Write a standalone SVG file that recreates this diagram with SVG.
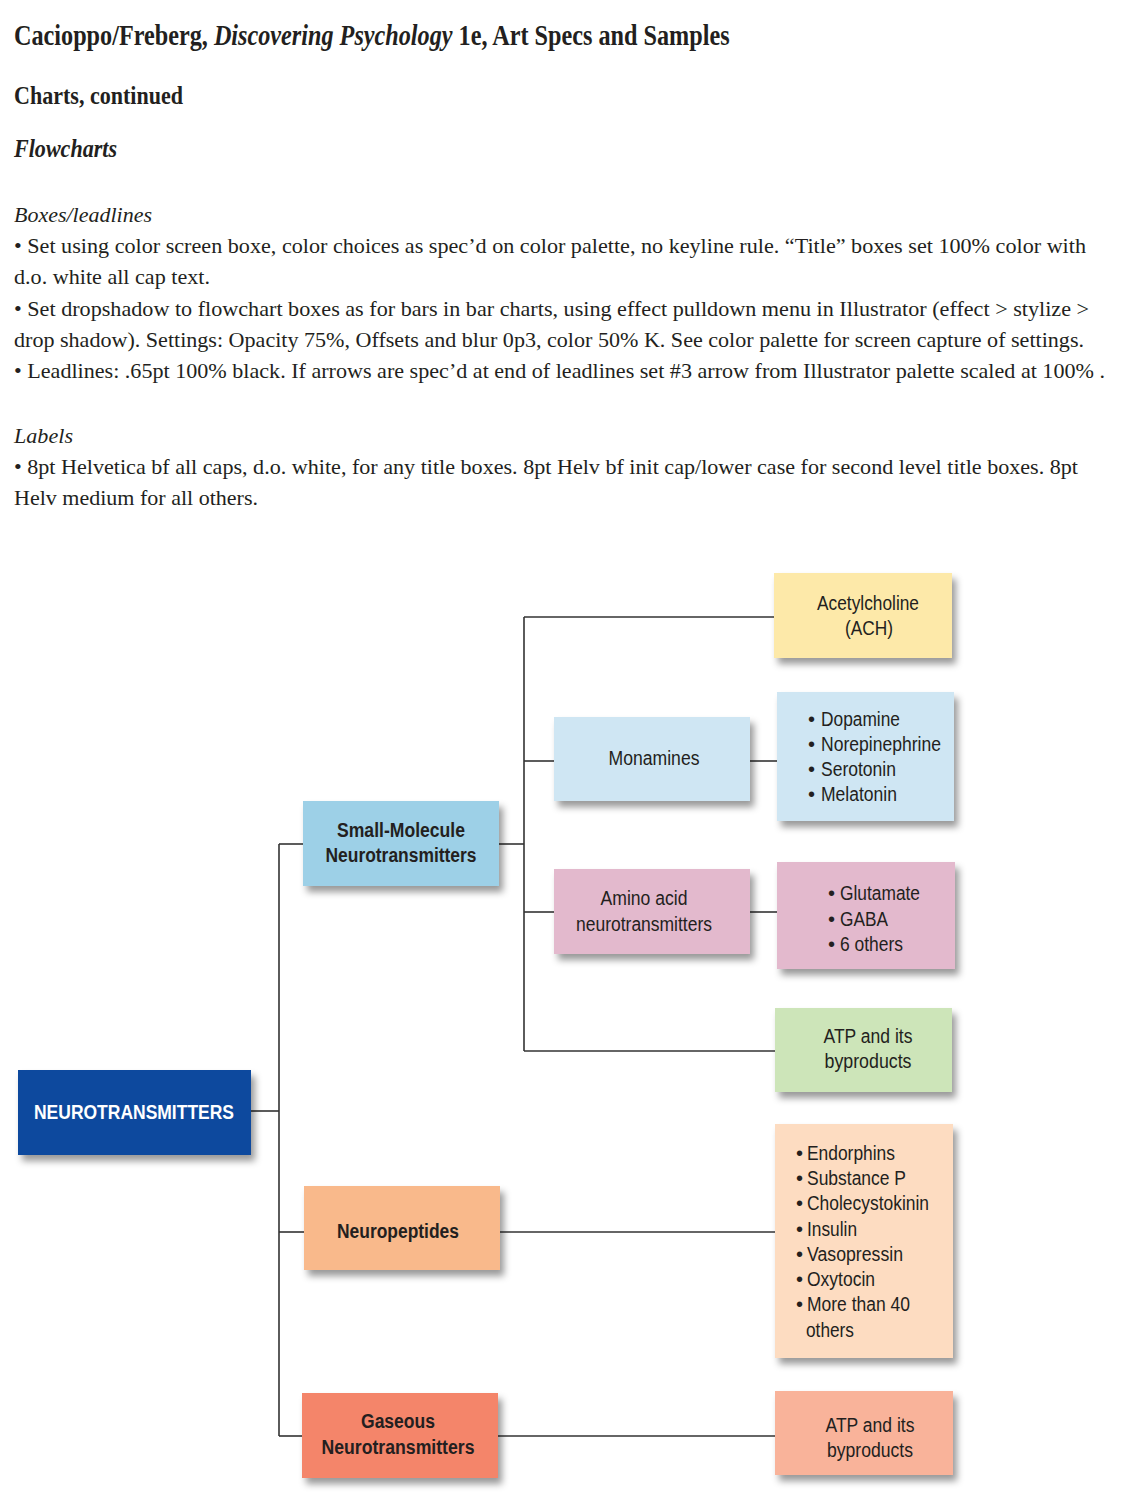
<svg xmlns="http://www.w3.org/2000/svg" width="1140" height="1510" viewBox="0 0 1140 1510">
<defs>
<filter id="ds" x="-10%" y="-10%" width="130%" height="140%">
<feDropShadow dx="4" dy="6" stdDeviation="3.5" flood-color="#000" flood-opacity="0.4"/>
</filter>
<style>
.hd{font-family:'Liberation Serif','Times New Roman',serif;fill:#231f20}
.hb{font-weight:bold}
.hi{font-style:italic}
.bd{font-size:22px}
.t{font-family:'Liberation Sans',Arial,Helvetica,sans-serif;font-size:20px;fill:#231f20}
.b{font-weight:bold}
.c{text-anchor:middle}
.w{fill:#ffffff}
.box{filter:url(#ds)}
.ln{stroke:#333333;stroke-width:1.6;fill:none}
</style>
</defs>
<rect width="1140" height="1510" fill="#ffffff"/>

<g id="header">
<text class="hd hb" transform="translate(14,45) scale(0.835,1)" x="0" y="0" font-size="29">Cacioppo/Freberg, <tspan class="hi">Discovering Psychology</tspan> 1e, Art Specs and Samples</text>
<text class="hd hb" x="14" y="104" font-size="25" textLength="169" lengthAdjust="spacingAndGlyphs">Charts, continued</text>
<text class="hd hb hi" x="14" y="157" font-size="25" textLength="103" lengthAdjust="spacingAndGlyphs">Flowcharts</text>
<text class="hd hi bd" x="14" y="222" textLength="138" lengthAdjust="spacingAndGlyphs">Boxes/leadlines</text>
<text class="hd bd" x="14" y="253" textLength="1072" lengthAdjust="spacingAndGlyphs">• Set using color screen boxe, color choices as spec’d on color palette, no keyline rule. “Title” boxes set 100% color with</text>
<text class="hd bd" x="14" y="284" textLength="196" lengthAdjust="spacingAndGlyphs">d.o. white all cap text.</text>
<text class="hd bd" x="14" y="316" textLength="1075" lengthAdjust="spacingAndGlyphs">• Set dropshadow to flowchart boxes as for bars in bar charts, using effect pulldown menu in Illustrator (effect &gt; stylize &gt;</text>
<text class="hd bd" x="14" y="347" textLength="1070" lengthAdjust="spacingAndGlyphs">drop shadow). Settings: Opacity 75%, Offsets and blur 0p3, color 50% K. See color palette for screen capture of settings.</text>
<text class="hd bd" x="14" y="378" textLength="1091" lengthAdjust="spacingAndGlyphs">• Leadlines: .65pt 100% black. If arrows are spec’d at end of leadlines set #3 arrow from Illustrator palette scaled at 100% .</text>
<text class="hd hi bd" x="14" y="443" textLength="59" lengthAdjust="spacingAndGlyphs">Labels</text>
<text class="hd bd" x="14" y="474" textLength="1064" lengthAdjust="spacingAndGlyphs">• 8pt Helvetica bf all caps, d.o. white, for any title boxes. 8pt Helv bf init cap/lower case for second level title boxes. 8pt</text>
<text class="hd bd" x="14" y="505" textLength="244" lengthAdjust="spacingAndGlyphs">Helv medium for all others.</text>
</g>

<g id="connectors">
<path class="ln" d="M251,1111 H279"/>
<path class="ln" d="M279,844 V1436"/>
<path class="ln" d="M279,844 H303"/>
<path class="ln" d="M279,1232 H304"/>
<path class="ln" d="M279,1436 H302"/>
<path class="ln" d="M499,844 H524"/>
<path class="ln" d="M524,617 V1051"/>
<path class="ln" d="M524,617 H774"/>
<path class="ln" d="M524,761 H554"/>
<path class="ln" d="M750,761 H777"/>
<path class="ln" d="M524,912 H554"/>
<path class="ln" d="M750,912 H777"/>
<path class="ln" d="M524,1051 H775"/>
<path class="ln" d="M500,1232 H775"/>
<path class="ln" d="M498,1436 H775"/>
</g>

<g id="n-root">
<rect class="box" x="18" y="1070" width="233" height="85" fill="#0b4a9e"/>
<text class="t b c w" x="134" y="1119" font-size="21" textLength="200" lengthAdjust="spacingAndGlyphs">NEUROTRANSMITTERS</text>
</g>

<g id="n-small">
<rect class="box" x="303" y="801" width="196" height="85" fill="#9dd0e7"/>
<text class="t b c" x="401" y="837" textLength="128" lengthAdjust="spacingAndGlyphs">Small-Molecule</text>
<text class="t b c" x="401" y="862" textLength="151" lengthAdjust="spacingAndGlyphs">Neurotransmitters</text>
</g>

<g id="n-ach">
<rect class="box" x="774" y="573" width="178" height="85" fill="#fde9a9"/>
<text class="t c" x="868" y="610" textLength="102" lengthAdjust="spacingAndGlyphs">Acetylcholine</text>
<text class="t c" x="869" y="635" textLength="48" lengthAdjust="spacingAndGlyphs">(ACH)</text>
</g>

<g id="n-mono">
<rect class="box" x="554" y="717" width="196" height="84" fill="#cfe6f3"/>
<text class="t c" x="654" y="765" textLength="91" lengthAdjust="spacingAndGlyphs">Monamines</text>
</g>

<g id="n-mono-list">
<rect class="box" x="777" y="692" width="177" height="129" fill="#cfe6f3"/>
<text class="t" x="808" y="726">•</text><text class="t" x="821" y="726" textLength="79" lengthAdjust="spacingAndGlyphs">Dopamine</text>
<text class="t" x="808" y="751">•</text><text class="t" x="821" y="751" textLength="120" lengthAdjust="spacingAndGlyphs">Norepinephrine</text>
<text class="t" x="808" y="776">•</text><text class="t" x="821" y="776" textLength="75" lengthAdjust="spacingAndGlyphs">Serotonin</text>
<text class="t" x="808" y="801">•</text><text class="t" x="821" y="801" textLength="76" lengthAdjust="spacingAndGlyphs">Melatonin</text>
</g>

<g id="n-amino">
<rect class="box" x="554" y="869" width="196" height="85" fill="#e3b9cd"/>
<text class="t c" x="644" y="905" textLength="87" lengthAdjust="spacingAndGlyphs">Amino acid</text>
<text class="t c" x="644" y="931" textLength="136" lengthAdjust="spacingAndGlyphs">neurotransmitters</text>
</g>

<g id="n-amino-list">
<rect class="box" x="777" y="862" width="178" height="107" fill="#e3b9cd"/>
<text class="t" x="828" y="900">•</text><text class="t" x="840" y="900" textLength="80" lengthAdjust="spacingAndGlyphs">Glutamate</text>
<text class="t" x="828" y="926">•</text><text class="t" x="840" y="926" textLength="48" lengthAdjust="spacingAndGlyphs">GABA</text>
<text class="t" x="828" y="951">•</text><text class="t" x="840" y="951" textLength="63" lengthAdjust="spacingAndGlyphs">6 others</text>
</g>

<g id="n-atp1">
<rect class="box" x="775" y="1008" width="177" height="84" fill="#cde5b9"/>
<text class="t c" x="868" y="1043" textLength="89" lengthAdjust="spacingAndGlyphs">ATP and its</text>
<text class="t c" x="868" y="1068" textLength="87" lengthAdjust="spacingAndGlyphs">byproducts</text>
</g>

<g id="n-neuro">
<rect class="box" x="304" y="1186" width="196" height="84" fill="#f9b98b"/>
<text class="t b c" x="398" y="1238" textLength="122" lengthAdjust="spacingAndGlyphs">Neuropeptides</text>
</g>

<g id="n-neuro-list">
<rect class="box" x="775" y="1124" width="178" height="234" fill="#fddcc1"/>
<text class="t" x="796" y="1160">•</text><text class="t" x="807" y="1160" textLength="88" lengthAdjust="spacingAndGlyphs">Endorphins</text>
<text class="t" x="796" y="1185">•</text><text class="t" x="807" y="1185" textLength="99" lengthAdjust="spacingAndGlyphs">Substance P</text>
<text class="t" x="796" y="1210">•</text><text class="t" x="807" y="1210" textLength="122" lengthAdjust="spacingAndGlyphs">Cholecystokinin</text>
<text class="t" x="796" y="1236">•</text><text class="t" x="807" y="1236" textLength="50" lengthAdjust="spacingAndGlyphs">Insulin</text>
<text class="t" x="796" y="1261">•</text><text class="t" x="807" y="1261" textLength="96" lengthAdjust="spacingAndGlyphs">Vasopressin</text>
<text class="t" x="796" y="1286">•</text><text class="t" x="807" y="1286" textLength="68" lengthAdjust="spacingAndGlyphs">Oxytocin</text>
<text class="t" x="796" y="1311">•</text><text class="t" x="807" y="1311" textLength="103" lengthAdjust="spacingAndGlyphs">More than 40</text>
<text class="t" x="806" y="1337" textLength="48" lengthAdjust="spacingAndGlyphs">others</text>
</g>

<g id="n-gas">
<rect class="box" x="302" y="1393" width="196" height="85" fill="#f4856a"/>
<text class="t b c" x="398" y="1428" textLength="74" lengthAdjust="spacingAndGlyphs">Gaseous</text>
<text class="t b c" x="398" y="1454" textLength="153" lengthAdjust="spacingAndGlyphs">Neurotransmitters</text>
</g>

<g id="n-atp2">
<rect class="box" x="775" y="1391" width="178" height="84" fill="#f9b39a"/>
<text class="t c" x="870" y="1432" textLength="89" lengthAdjust="spacingAndGlyphs">ATP and its</text>
<text class="t c" x="870" y="1457" textLength="86" lengthAdjust="spacingAndGlyphs">byproducts</text>
</g>
</svg>
